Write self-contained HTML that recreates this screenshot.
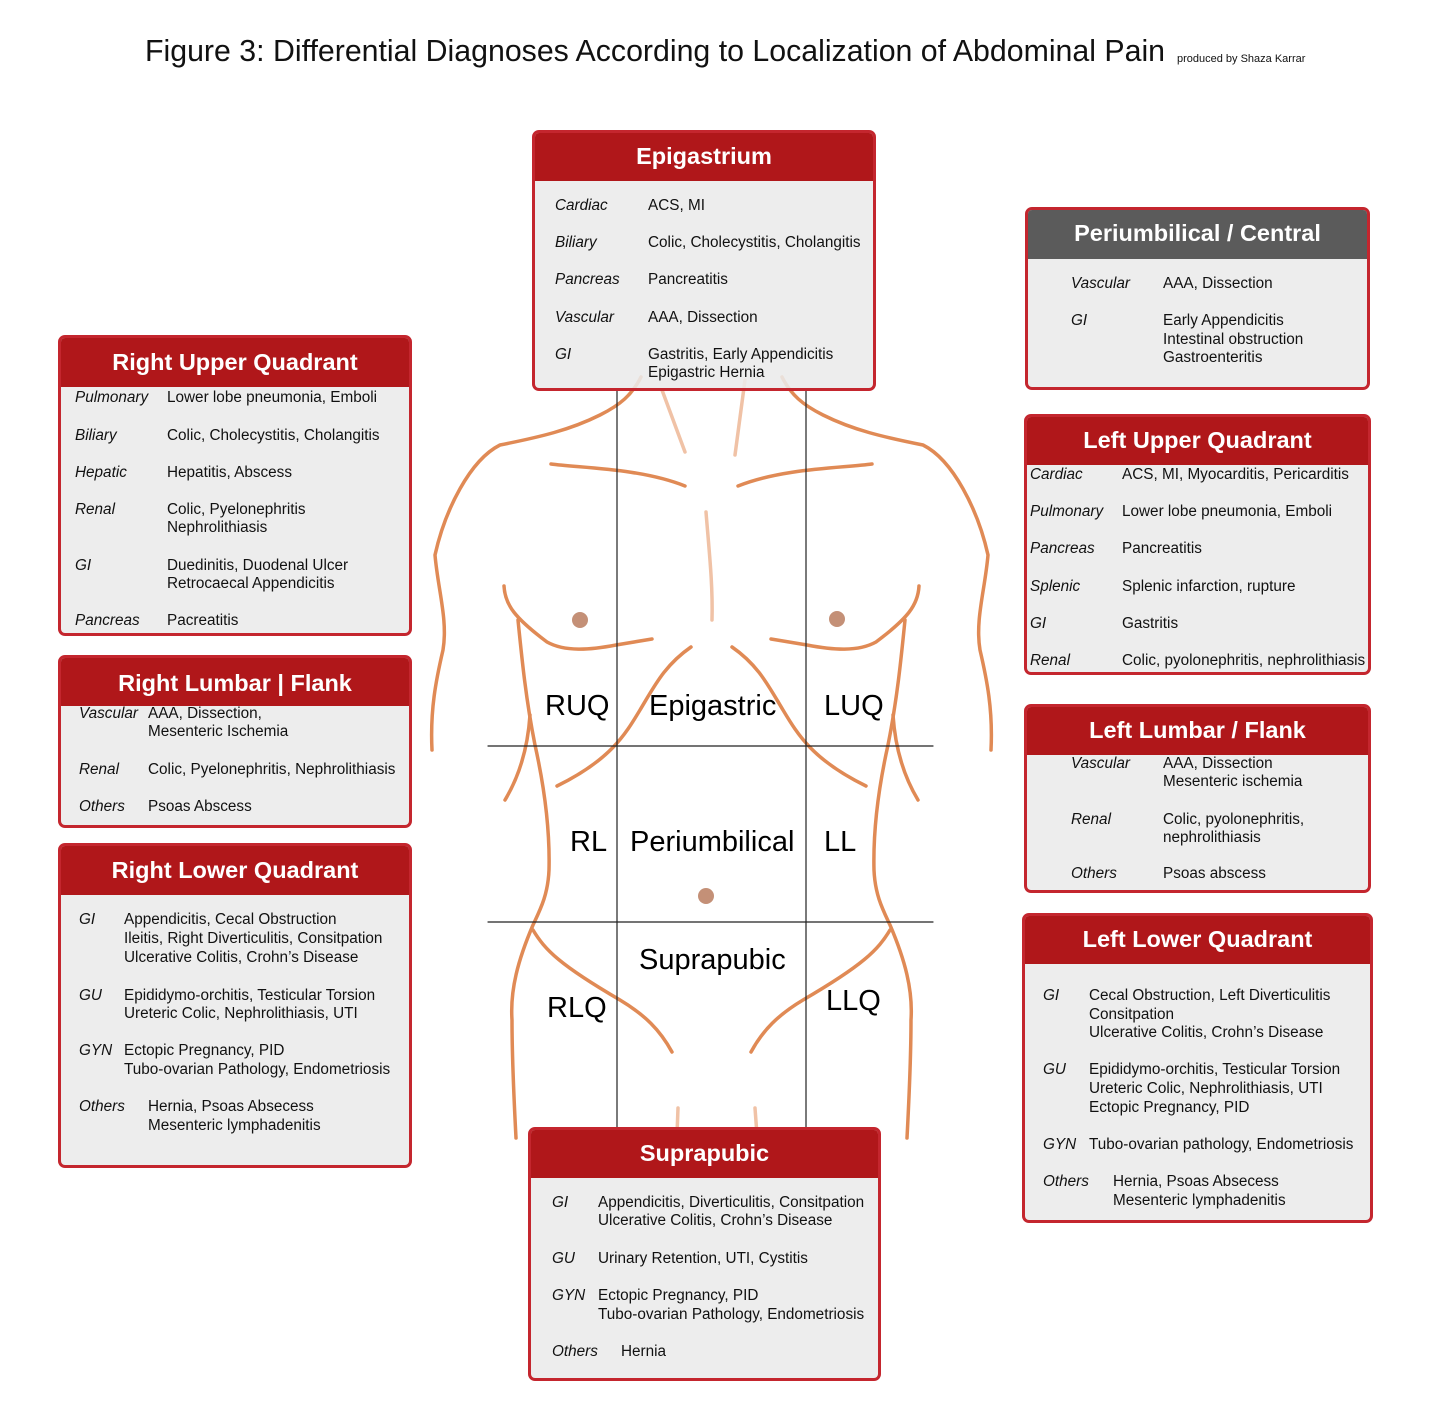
<!DOCTYPE html>
<html><head><meta charset="utf-8"><style>
*{margin:0;padding:0;box-sizing:border-box}
body{width:1429px;height:1411px;background:#fff;position:relative;overflow:hidden;font-family:"Liberation Sans",Arial,sans-serif;color:#111}
.t{position:absolute;font-size:15.3px;line-height:18px;white-space:nowrap}
.i{font-style:italic}
.box{position:absolute;border:3px solid #c4262e;border-radius:7px;background:rgba(235,235,235,0.88);overflow:hidden}
.hd{position:absolute;left:0;right:0;top:0;background:#b0171a;color:#fff;font-weight:bold;font-size:23.5px;text-align:center}
.lab{position:absolute;font-size:29px;line-height:32px;white-space:nowrap;color:#000}
</style></head><body>
<div class="t" style="left:145px;top:34px;font-size:30.3px;line-height:36px">Figure 3: Differential Diagnoses According to Localization of Abdominal Pain</div>
<div class="t" style="left:1177px;top:52px;font-size:11px;line-height:14px">produced by Shaza Karrar</div>

<svg width="1429" height="1411" style="position:absolute;left:0;top:0" fill="none" stroke-linecap="round">
<g stroke="#e08a55" stroke-width="3.5">
<path d="M641,377 C632,395 620,405 600,415 C570,430 540,437 500,445 C470,460 445,510 435,555 C438,590 448,620 443,650 C436,680 430,710 432,750"/>
<path d="M782,377 C791,395 803,405 823,415 C853,430 883,437 923,445 C953,460 978,510 988,555 C985,590 975,620 980,650 C987,680 993,710 991,750"/>
<path d="M551,464 C580,468 640,468 685,486"/>
<path d="M872,464 C843,468 783,468 738,486"/>
<path d="M504,586 C505,605 515,618 547,642 C565,652 590,650 616,645 L652,639"/>
<path d="M919,586 C918,605 908,618 876,642 C858,652 833,650 807,645 L771,639"/>
<path d="M691,647 C665,665 655,685 640,710 C625,735 610,760 557,786"/>
<path d="M732,647 C758,665 768,685 783,710 C798,735 813,760 866,786"/>
<path d="M518,620 C522,660 526,700 535,745 C545,790 550,830 549,870 C548,895 540,910 533,925 C518,960 510,990 512,1020 C512,1060 514,1100 516,1138"/>
<path d="M905,620 C901,660 897,700 888,745 C878,790 873,830 874,870 C875,895 883,910 890,925 C905,960 913,990 911,1020 C911,1060 909,1100 907,1138"/>
<path d="M530,715 C528,745 520,775 505,800"/>
<path d="M893,715 C895,745 903,775 918,800"/>
<path d="M533,930 C545,950 560,965 620,1000 C645,1015 660,1030 672,1052"/>
<path d="M890,930 C878,950 863,965 803,1000 C778,1015 763,1030 751,1052"/>
</g>
<g stroke="#f0c2a6" stroke-width="3.5">
<path d="M662,390 L685,452"/><path d="M745,380 L735,455"/>
<path d="M706,512 C709,550 713,585 712,620"/>
<path d="M678,1108 L677,1135"/><path d="M755,1108 L757,1135"/>
</g>
<g fill="#c49077"><circle cx="580" cy="620" r="8"/><circle cx="837" cy="619" r="8"/><circle cx="706" cy="896" r="8"/></g>
<g stroke="#222" stroke-width="1.2">
<line x1="617" y1="390" x2="617" y2="1128"/><line x1="806" y1="390" x2="806" y2="1128"/>
<line x1="488" y1="746" x2="933" y2="746"/><line x1="488" y1="922" x2="933" y2="922"/>
</g>
</svg>

<div class="lab" style="left:545px;top:690px">RUQ</div>
<div class="lab" style="left:649px;top:690px">Epigastric</div>
<div class="lab" style="left:824px;top:690px">LUQ</div>
<div class="lab" style="left:570px;top:826px">RL</div>
<div class="lab" style="left:630px;top:826px">Periumbilical</div>
<div class="lab" style="left:824px;top:826px">LL</div>
<div class="lab" style="left:639px;top:944px">Suprapubic</div>
<div class="lab" style="left:547px;top:992px">RLQ</div>
<div class="lab" style="left:826px;top:985px">LLQ</div>

<!-- Epigastrium -->
<div class="box" style="left:532px;top:130px;width:344px;height:261px"><div class="hd" style="height:48px;line-height:46px">Epigastrium</div></div>
<div class="t i" style="left:555px;top:197px">Cardiac</div><div class="t" style="left:648px;top:197px">ACS, MI</div>
<div class="t i" style="left:555px;top:234px">Biliary</div><div class="t" style="left:648px;top:234px">Colic, Cholecystitis, Cholangitis</div>
<div class="t i" style="left:555px;top:271px">Pancreas</div><div class="t" style="left:648px;top:271px">Pancreatitis</div>
<div class="t i" style="left:555px;top:309px">Vascular</div><div class="t" style="left:648px;top:309px">AAA, Dissection</div>
<div class="t i" style="left:555px;top:346px">GI</div><div class="t" style="left:648px;top:346px">Gastritis, Early Appendicitis</div>
<div class="t" style="left:648px;top:364px">Epigastric Hernia</div>

<!-- Periumbilical -->
<div class="box" style="left:1025px;top:207px;width:345px;height:183px"><div class="hd" style="height:49px;line-height:47px;background:#5b5b5b">Periumbilical / Central</div></div>
<div class="t i" style="left:1071px;top:275px">Vascular</div><div class="t" style="left:1163px;top:275px">AAA, Dissection</div>
<div class="t i" style="left:1071px;top:312px">GI</div><div class="t" style="left:1163px;top:312px">Early Appendicitis</div>
<div class="t" style="left:1163px;top:331px">Intestinal obstruction</div>
<div class="t" style="left:1163px;top:349px">Gastroenteritis</div>

<!-- RUQ -->
<div class="box" style="left:58px;top:335px;width:354px;height:301px"><div class="hd" style="height:49px;line-height:49px">Right Upper Quadrant</div></div>
<div class="t i" style="left:75px;top:389px">Pulmonary</div><div class="t" style="left:167px;top:389px">Lower lobe pneumonia, Emboli</div>
<div class="t i" style="left:75px;top:427px">Biliary</div><div class="t" style="left:167px;top:427px">Colic, Cholecystitis, Cholangitis</div>
<div class="t i" style="left:75px;top:464px">Hepatic</div><div class="t" style="left:167px;top:464px">Hepatitis, Abscess</div>
<div class="t i" style="left:75px;top:501px">Renal</div><div class="t" style="left:167px;top:501px">Colic, Pyelonephritis</div>
<div class="t" style="left:167px;top:519px">Nephrolithiasis</div>
<div class="t i" style="left:75px;top:557px">GI</div><div class="t" style="left:167px;top:557px">Duedinitis, Duodenal Ulcer</div>
<div class="t" style="left:167px;top:575px">Retrocaecal Appendicitis</div>
<div class="t i" style="left:75px;top:612px">Pancreas</div><div class="t" style="left:167px;top:612px">Pacreatitis</div>

<!-- Right Lumbar -->
<div class="box" style="left:58px;top:655px;width:354px;height:173px"><div class="hd" style="height:48px;line-height:50px">Right Lumbar | Flank</div></div>
<div class="t i" style="left:79px;top:705px">Vascular</div><div class="t" style="left:148px;top:705px">AAA, Dissection,</div>
<div class="t" style="left:148px;top:723px">Mesenteric Ischemia</div>
<div class="t i" style="left:79px;top:761px">Renal</div><div class="t" style="left:148px;top:761px">Colic, Pyelonephritis, Nephrolithiasis</div>
<div class="t i" style="left:79px;top:798px">Others</div><div class="t" style="left:148px;top:798px">Psoas Abscess</div>

<!-- RLQ -->
<div class="box" style="left:58px;top:843px;width:354px;height:325px"><div class="hd" style="height:49px;line-height:49px">Right Lower Quadrant</div></div>
<div class="t i" style="left:79px;top:911px">GI</div><div class="t" style="left:124px;top:911px">Appendicitis, Cecal Obstruction</div>
<div class="t" style="left:124px;top:930px">Ileitis, Right Diverticulitis, Consitpation</div>
<div class="t" style="left:124px;top:949px">Ulcerative Colitis, Crohn’s Disease</div>
<div class="t i" style="left:79px;top:987px">GU</div><div class="t" style="left:124px;top:987px">Epididymo-orchitis, Testicular Torsion</div>
<div class="t" style="left:124px;top:1005px">Ureteric Colic, Nephrolithiasis, UTI</div>
<div class="t i" style="left:79px;top:1042px">GYN</div><div class="t" style="left:124px;top:1042px">Ectopic Pregnancy, PID</div>
<div class="t" style="left:124px;top:1061px">Tubo-ovarian Pathology, Endometriosis</div>
<div class="t i" style="left:79px;top:1098px">Others</div><div class="t" style="left:148px;top:1098px">Hernia, Psoas Absecess</div>
<div class="t" style="left:148px;top:1117px">Mesenteric lymphadenitis</div>

<!-- LUQ -->
<div class="box" style="left:1024px;top:414px;width:347px;height:261px"><div class="hd" style="height:48px;line-height:46px">Left Upper Quadrant</div></div>
<div class="t i" style="left:1030px;top:466px">Cardiac</div><div class="t" style="left:1122px;top:466px">ACS, MI, Myocarditis, Pericarditis</div>
<div class="t i" style="left:1030px;top:503px">Pulmonary</div><div class="t" style="left:1122px;top:503px">Lower lobe pneumonia, Emboli</div>
<div class="t i" style="left:1030px;top:540px">Pancreas</div><div class="t" style="left:1122px;top:540px">Pancreatitis</div>
<div class="t i" style="left:1030px;top:578px">Splenic</div><div class="t" style="left:1122px;top:578px">Splenic infarction, rupture</div>
<div class="t i" style="left:1030px;top:615px">GI</div><div class="t" style="left:1122px;top:615px">Gastritis</div>
<div class="t i" style="left:1030px;top:652px">Renal</div><div class="t" style="left:1122px;top:652px">Colic, pyolonephritis, nephrolithiasis</div>

<!-- Left Lumbar -->
<div class="box" style="left:1024px;top:704px;width:347px;height:189px"><div class="hd" style="height:48px;line-height:47px">Left Lumbar / Flank</div></div>
<div class="t i" style="left:1071px;top:755px">Vascular</div><div class="t" style="left:1163px;top:755px">AAA, Dissection</div>
<div class="t" style="left:1163px;top:773px">Mesenteric ischemia</div>
<div class="t i" style="left:1071px;top:811px">Renal</div><div class="t" style="left:1163px;top:811px">Colic, pyolonephritis,</div>
<div class="t" style="left:1163px;top:829px">nephrolithiasis</div>
<div class="t i" style="left:1071px;top:865px">Others</div><div class="t" style="left:1163px;top:865px">Psoas abscess</div>

<!-- LLQ -->
<div class="box" style="left:1022px;top:913px;width:351px;height:310px"><div class="hd" style="height:48px;line-height:47px">Left Lower Quadrant</div></div>
<div class="t i" style="left:1043px;top:987px">GI</div><div class="t" style="left:1089px;top:987px">Cecal Obstruction, Left Diverticulitis</div>
<div class="t" style="left:1089px;top:1006px">Consitpation</div>
<div class="t" style="left:1089px;top:1024px">Ulcerative Colitis, Crohn’s Disease</div>
<div class="t i" style="left:1043px;top:1061px">GU</div><div class="t" style="left:1089px;top:1061px">Epididymo-orchitis, Testicular Torsion</div>
<div class="t" style="left:1089px;top:1080px">Ureteric Colic, Nephrolithiasis, UTI</div>
<div class="t" style="left:1089px;top:1099px">Ectopic Pregnancy, PID</div>
<div class="t i" style="left:1043px;top:1136px">GYN</div><div class="t" style="left:1089px;top:1136px">Tubo-ovarian pathology, Endometriosis</div>
<div class="t i" style="left:1043px;top:1173px">Others</div><div class="t" style="left:1113px;top:1173px">Hernia, Psoas Absecess</div>
<div class="t" style="left:1113px;top:1192px">Mesenteric lymphadenitis</div>

<!-- Suprapubic -->
<div class="box" style="left:528px;top:1127px;width:353px;height:254px"><div class="hd" style="height:48px;line-height:47px">Suprapubic</div></div>
<div class="t i" style="left:552px;top:1194px">GI</div><div class="t" style="left:598px;top:1194px">Appendicitis, Diverticulitis, Consitpation</div>
<div class="t" style="left:598px;top:1212px">Ulcerative Colitis, Crohn’s Disease</div>
<div class="t i" style="left:552px;top:1250px">GU</div><div class="t" style="left:598px;top:1250px">Urinary Retention, UTI, Cystitis</div>
<div class="t i" style="left:552px;top:1287px">GYN</div><div class="t" style="left:598px;top:1287px">Ectopic Pregnancy, PID</div>
<div class="t" style="left:598px;top:1306px">Tubo-ovarian Pathology, Endometriosis</div>
<div class="t i" style="left:552px;top:1343px">Others</div><div class="t" style="left:621px;top:1343px">Hernia</div>
</body></html>
